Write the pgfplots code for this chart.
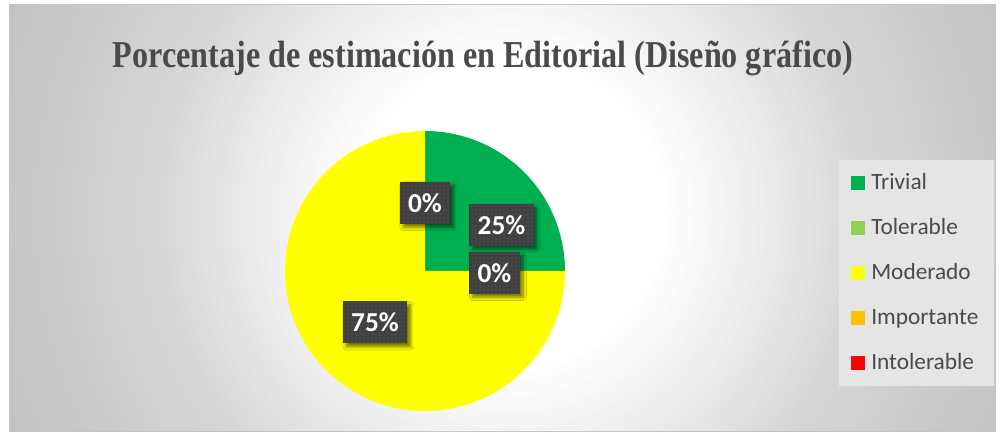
\documentclass[border=0pt]{standalone}
\usepackage{pgfplots}
\pgfplotsset{compat=1.18}
\usepackage{pgfplotstable}
\usepackage{fontspec}
\usetikzlibrary{patterns,shadows.blur}
\setmainfont{Liberation Serif}
\newfontfamily\calibri{Carlito}
\definecolor{cTriv}{HTML}{00B050}
\definecolor{cTol}{HTML}{92D050}
\definecolor{cMod}{HTML}{FFFF00}
\definecolor{cImp}{HTML}{FFC000}
\definecolor{cInt}{HTML}{FF0000}
\definecolor{txt}{HTML}{4A4A4A}
\definecolor{lbl}{HTML}{404040}
\definecolor{frame}{HTML}{C4C4C4}
\definecolor{legbg}{HTML}{E5E5E5}

\pgfplotstableread{
label value
Trivial 25
Tolerable 0
Moderado 75
Importante 0
Intolerable 0
}\piedata

\begin{document}
\begin{tikzpicture}[x=0.75pt,y=0.75pt]
\useasboundingbox (0,0) rectangle (1000,438);
\fill[white] (0,0) rectangle (1000,438);
\begin{scope}
\clip (9,6) rectangle (995,433);
\fill[black!24] (9,6) rectangle (995,433);
\foreach \r in {600,592,...,160}{
  \pgfmathtruncatemacro\g{\r<=250 ? 255-(\r-160)*17/90 : (\r<=350 ? 238-(\r-250)*22/100 : (\r<=490 ? 216-(\r-350)*16/140 : 200-(\r-490)*6/70))}
  \definecolor{tmp}{RGB}{\g,\g,\g}
  \fill[tmp] (510,225) circle[radius=\r*0.75pt];
}
\end{scope}
\draw[frame,line width=0.75pt] (9,6) rectangle (995,433);
\fill[legbg] (839,52) rectangle (994,278);

% angles from data (clockwise from 12 o'clock)
\pgfplotstablegetelem{0}{value}\of\piedata \pgfmathsetmacro\vA{\pgfplotsretval}
\pgfplotstablegetelem{1}{value}\of\piedata \pgfmathsetmacro\vB{\pgfplotsretval}
\pgfplotstablegetelem{2}{value}\of\piedata \pgfmathsetmacro\vC{\pgfplotsretval}
\pgfplotstablegetelem{3}{value}\of\piedata \pgfmathsetmacro\vD{\pgfplotsretval}
\pgfplotstablegetelem{4}{value}\of\piedata \pgfmathsetmacro\vE{\pgfplotsretval}
\pgfmathsetmacro\aA{90}
\pgfmathsetmacro\aB{\aA-3.6*\vA}
\pgfmathsetmacro\aC{\aB-3.6*\vB}
\pgfmathsetmacro\aD{\aC-3.6*\vC}
\pgfmathsetmacro\aE{\aD-3.6*\vD}
\pgfmathsetmacro\aF{\aE-3.6*\vE}

\begin{axis}[at={(0,0)},anchor=south west,scale only axis,
  width=750pt,height=328.5pt,xmin=0,xmax=1000,ymin=0,ymax=438,
  hide axis,clip=false]
\fill[cTriv] (axis cs:425,167) -- ++(\aA:105pt) arc[start angle=\aA,end angle=\aB,radius=105pt] -- cycle;
\fill[cMod] (axis cs:425,167) -- ++(\aC:105pt) arc[start angle=\aC,end angle=\aD,radius=105pt] -- cycle;

\tikzset{plab/.style={blur shadow={shadow xshift=2.5pt,shadow yshift=-2.5pt,shadow blur steps=8,shadow blur radius=2.5pt,shadow opacity=55},
  preaction={fill=lbl},pattern=dots,pattern color=lbl!78!white,
  minimum height=31.5pt,inner xsep=6.2pt,inner ysep=0pt,
  font=\calibri\bfseries\fontsize{20.5}{22}\selectfont,text=white}}
\node[plab] at (axis cs:425,235) {0\%};
\node[plab] at (axis cs:501.5,213) {25\%};
\node[plab] at (axis cs:494.5,165) {0\%};
\node[plab] at (axis cs:375,115.5) {75\%};

% legend
\foreach \c/\t/\y in {cTriv/Trivial/183,cTol/Tolerable/228,cMod/Moderado/273,cImp/Importante/318,cInt/Intolerable/363}{
  \edef\temp{\noexpand\fill[\c] (axis cs:851,{438-\y-7}) rectangle (axis cs:865,{438-\y+7});
  \noexpand\node[anchor=base west,inner sep=0pt,text=txt,font=\noexpand\calibri\noexpand\fontsize{17.5}{20}\noexpand\selectfont] at (axis cs:871,{438-\y-7}) {\t};}
  \temp
}
\end{axis}
\node[text=txt,inner sep=0pt,anchor=base] at (483,370) {\resizebox{555pt}{\height}{\fontsize{28.5}{32}\selectfont\bfseries Porcentaje de estimación en Editorial (Diseño gráfico)}};
\end{tikzpicture}
\end{document}
